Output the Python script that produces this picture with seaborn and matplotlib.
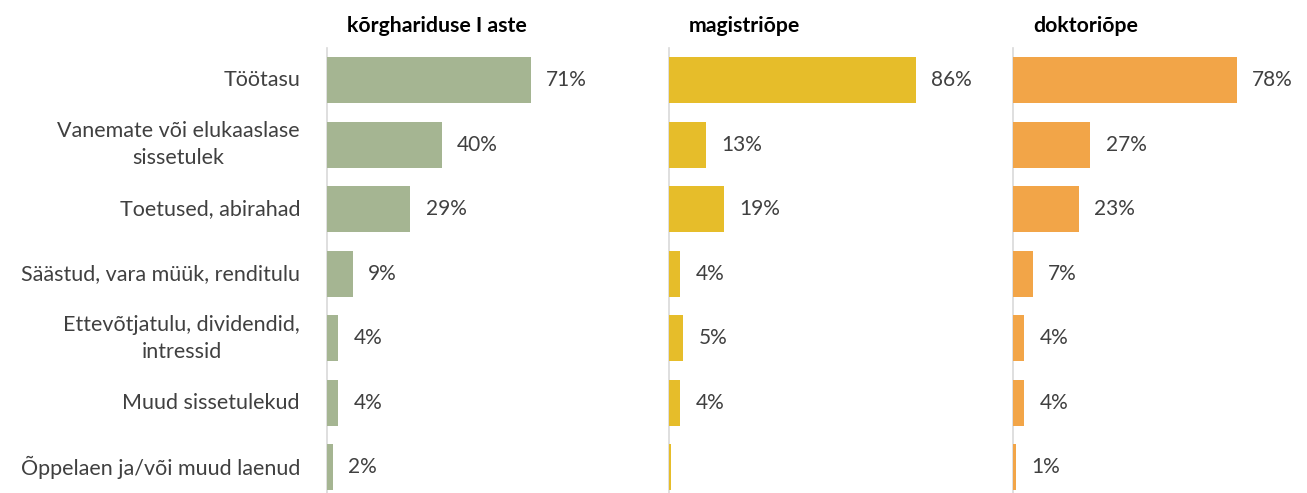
import matplotlib
matplotlib.use("Agg")
import matplotlib.pyplot as plt
import matplotlib.transforms as mtransforms
import seaborn as sns
import pandas as pd

categories = [
    "Töötasu",
    "Vanemate või elukaaslase\nsissetulek",
    "Toetused, abirahad",
    "Säästud, vara müük, renditulu",
    "Ettevõtjatulu, dividendid,\nintressid",
    "Muud sissetulekud",
    "Õppelaen ja/või muud laenud",
]
panel_titles = ["kõrghariduse I aste", "magistriõpe", "doktoriõpe"]
values_bachelor = [71, 40, 29, 9, 4, 4, 2]
values_master = [86, 13, 19, 4, 5, 4, 0.8]
values_doctor = [78, 27, 23, 7, 4, 4, 1]
labels_bachelor = ["71%", "40%", "29%", "9%", "4%", "4%", "2%"]
labels_master = ["86%", "13%", "19%", "4%", "5%", "4%", ""]
labels_doctor = ["78%", "27%", "23%", "7%", "4%", "4%", "1%"]
colors = ["#A5B592", "#E6BD2A", "#F2A548"]

sns.set_theme(style="white")
plt.rcParams["font.family"] = ["Lato", "DejaVu Sans"]

fig = plt.figure(figsize=(13.07, 4.93), dpi=100)
W, H = 1307, 493
ax_lefts = [327, 669, 1013]
ax_w = 287
top_px, bot_px = 48, 493

series = [
    (values_bachelor, labels_bachelor),
    (values_master, labels_master),
    (values_doctor, labels_doctor),
]

text_color = "#404040"
for i, ((vals, labs), title, col) in enumerate(zip(series, panel_titles, colors)):
    ax = fig.add_axes([ax_lefts[i] / W, 1 - bot_px / H, ax_w / W, (bot_px - top_px) / H])
    df = pd.DataFrame({"category": categories, "value": vals})
    sns.barplot(data=df, x="value", y="category", color=col, saturation=1,
                width=0.71, ax=ax, orient="h", linewidth=0)
    ax.set_xlim(0, 100)
    ax.set_ylim(6.4, -0.5)
    ax.bar_label(ax.containers[0], labels=labs, padding=11, fontsize=15,
                 color=text_color)
    ax.set_xlabel("")
    ax.set_ylabel("")
    ax.set_xticks([])
    for s in ["top", "right", "bottom"]:
        ax.spines[s].set_visible(False)
    ax.spines["left"].set_color("#D9D9D9")
    ax.spines["left"].set_linewidth(1.2)
    ax.spines["left"].set_zorder(0.5)
    ax.set_yticks(range(len(categories)))
    ax.set_yticklabels([])
    ax.tick_params(axis="y", length=0)
    if i == 0:
        trans = mtransforms.blended_transform_factory(ax.transAxes, ax.transData)
        for j, cat in enumerate(categories):
            ax.text(-27 / ax_w, j, cat, transform=trans, ha="right", va="center",
                    multialignment="center", linespacing=1.45, fontsize=15.5,
                    color=text_color)
    fig.text((ax_lefts[i] + 20) / W, 1 - 26 / H, title, fontsize=15.3,
             fontweight="bold", color="#000000", ha="left", va="center")

fig.savefig("out.png", dpi=100)
